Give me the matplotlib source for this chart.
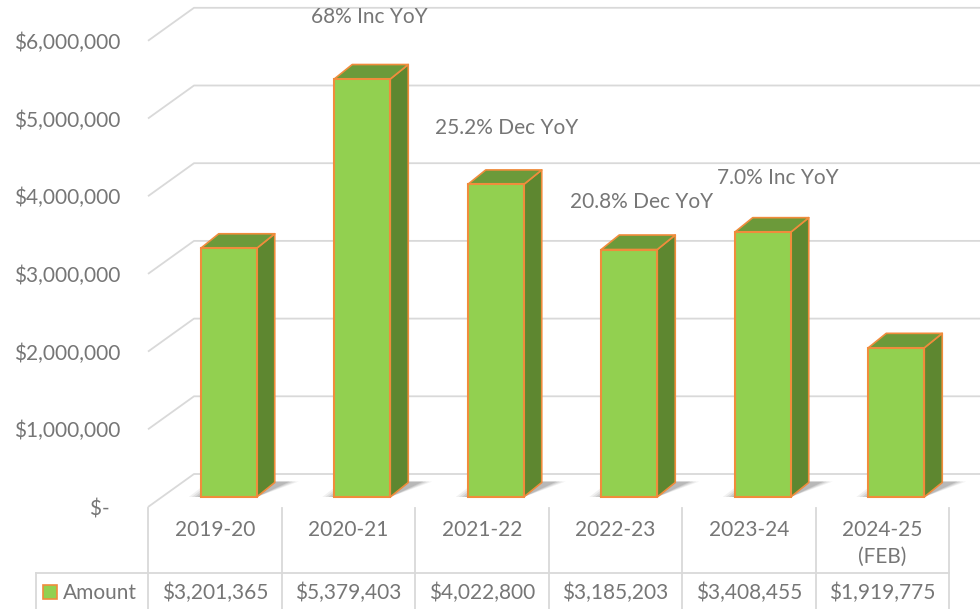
import matplotlib
matplotlib.use("Agg")
import matplotlib.pyplot as plt
import matplotlib.transforms as mtrans
from matplotlib.patches import Polygon, Rectangle

# ---------------- data ----------------
categories = ["2019-20", "2020-21", "2021-22", "2022-23", "2023-24", "2024-25\n(FEB)"]
amounts = [3201365, 5379403, 4022800, 3185203, 3408455, 1919775]
series_name = "Amount"
yticks = [0, 1000000, 2000000, 3000000, 4000000, 5000000, 6000000]
ytick_labels = ["$-  ", "$1,000,000", "$2,000,000", "$3,000,000",
                "$4,000,000", "$5,000,000", "$6,000,000"]
yoy_labels = ["68% Inc YoY", "25.2% Dec YoY", "20.8% Dec YoY", "7.0% Inc YoY"]
yoy_x = [1.16, 2.19, 3.20, 4.22]
yoy_y = [6300000, 4880000, 3930000, 4240000]

# ---------------- style ----------------
FONT = "Lato"
FS = 15
TXT = "#767676"
GRID = "#D9D9D9"
FRONT = "#92D050"
TOP = "#6C9A3A"
SIDE = "#5E8730"
EDGE = "#F08C3C"

W, H = 980, 609
fig = plt.figure(figsize=(W / 100, H / 100), dpi=100)
fig.patch.set_facecolor("white")

# axes in "floor-front" coordinates
AX_L, AX_R = 148, 949
FLOOR_Y = 507
PX_PER_M = 77.7
YMAX = 6.5e6
ax_h = YMAX / 1e6 * PX_PER_M
ax = fig.add_axes([AX_L / W, (H - FLOOR_Y) / H, (AX_R - AX_L) / W, ax_h / H])
ax.set_xlim(-0.5, 5.5)
ax.set_ylim(0, YMAX)
ax.set_facecolor("none")
for s in ax.spines.values():
    s.set_visible(False)
ax.set_xticks([])

PXX = (AX_R - AX_L) / 6.0      # px per x unit
PXY = PX_PER_M / 1e6           # px per y unit


def dx(px):
    return px / PXX


def dy(px):
    return px / PXY


# y tick labels
ax.set_yticks(yticks)
ax.set_yticklabels(ytick_labels)
ax.tick_params(axis="y", length=0, pad=28 * 72 / 100, labelcolor=TXT, labelsize=FS)
for t in ax.get_yticklabels():
    t.set_fontfamily(FONT)

# gridlines (left wall diagonal + back wall)
BACK_X, BACK_Y = 46, 33
for v in yticks:
    ax.plot([-0.5, -0.5 + dx(BACK_X), 6.2], [v, v + dy(BACK_Y), v + dy(BACK_Y)],
            color=GRID, lw=1.3, clip_on=False, zorder=1, solid_capstyle="butt")

# bars
BW = 56 / PXX
FX, FY = 14, 10          # front face depth offset (px)
DDX, DDY = 18, 14.5      # bar depth (px)
for i, v in enumerate(amounts):
    xl = i - BW / 2 + dx(FX)
    xr = xl + BW
    yb = dy(FY)
    yt = yb + v
    # soft shadow
    for k, a in enumerate([0.07, 0.09, 0.12, 0.15]):
        g = 10 - 3 * k
        sh = Polygon([(xl - dx(g + 2), yb), (xr, yb),
                      (xr + dx(DDX + 14 + g), yb + dy(DDY + 1)),
                      (xl + dx(DDX - g), yb + dy(DDY + 1))],
                     closed=True, facecolor="#404040", edgecolor="none",
                     alpha=a, zorder=2, clip_on=False)
        ax.add_patch(sh)
    side = Polygon([(xr, yb), (xr + dx(DDX), yb + dy(DDY)),
                    (xr + dx(DDX), yt + dy(DDY)), (xr, yt)],
                   closed=True, facecolor=SIDE, edgecolor=EDGE, lw=1.2,
                   joinstyle="round", zorder=3, clip_on=False)
    top = Polygon([(xl, yt), (xr, yt), (xr + dx(DDX), yt + dy(DDY)),
                   (xl + dx(DDX), yt + dy(DDY))],
                  closed=True, facecolor=TOP, edgecolor=EDGE, lw=1.2,
                  joinstyle="round", zorder=3, clip_on=False)
    front = Rectangle((xl, yb), BW, v, facecolor=FRONT, edgecolor=EDGE,
                      lw=1.5, zorder=4, clip_on=False)
    ax.add_patch(side)
    ax.add_patch(top)
    ax.add_patch(front)

# YoY annotations
for lab, x, y in zip(yoy_labels, yoy_x, yoy_y):
    ax.text(x, y, lab, ha="center", va="center", fontsize=FS,
            color=TXT, fontfamily=FONT, zorder=6, clip_on=False)

# ---------------- data table ----------------
tb = mtrans.blended_transform_factory(ax.transData, fig.transFigure)


def fy(py):
    return 1 - py / H


for k in range(7):
    xk = -0.5 + k
    ax.plot([xk, xk], [fy(508), fy(H + 2)], transform=tb, color=GRID, lw=1.3,
            clip_on=False, zorder=1)
fig.add_artist(plt.Line2D([36 / W, AX_R / W], [fy(573), fy(573)],
                          transform=fig.transFigure, color=GRID, lw=1.3))
fig.add_artist(plt.Line2D([36 / W, 36 / W], [fy(573), fy(H + 2)],
                          transform=fig.transFigure, color=GRID, lw=1.3))

for i, c in enumerate(categories):
    ax.text(i, fy(520), c, transform=tb, ha="center", va="top",
            multialignment="center", fontsize=FS, color=TXT, fontfamily=FONT,
            linespacing=1.42, clip_on=False)
    ax.text(i, fy(593), f"${amounts[i]:,.0f}", transform=tb, ha="center",
            va="center", fontsize=FS, color=TXT, fontfamily=FONT, clip_on=False)

fig.add_artist(Rectangle((43 / W, fy(599)), 14 / W, 14 / H,
                         transform=fig.transFigure, facecolor=FRONT,
                         edgecolor=EDGE, lw=1.2))
fig.text(63 / W, fy(593), series_name, ha="left", va="center", fontsize=FS,
         color=TXT, fontfamily=FONT)

fig.savefig("out.png", dpi=100, facecolor="white")
